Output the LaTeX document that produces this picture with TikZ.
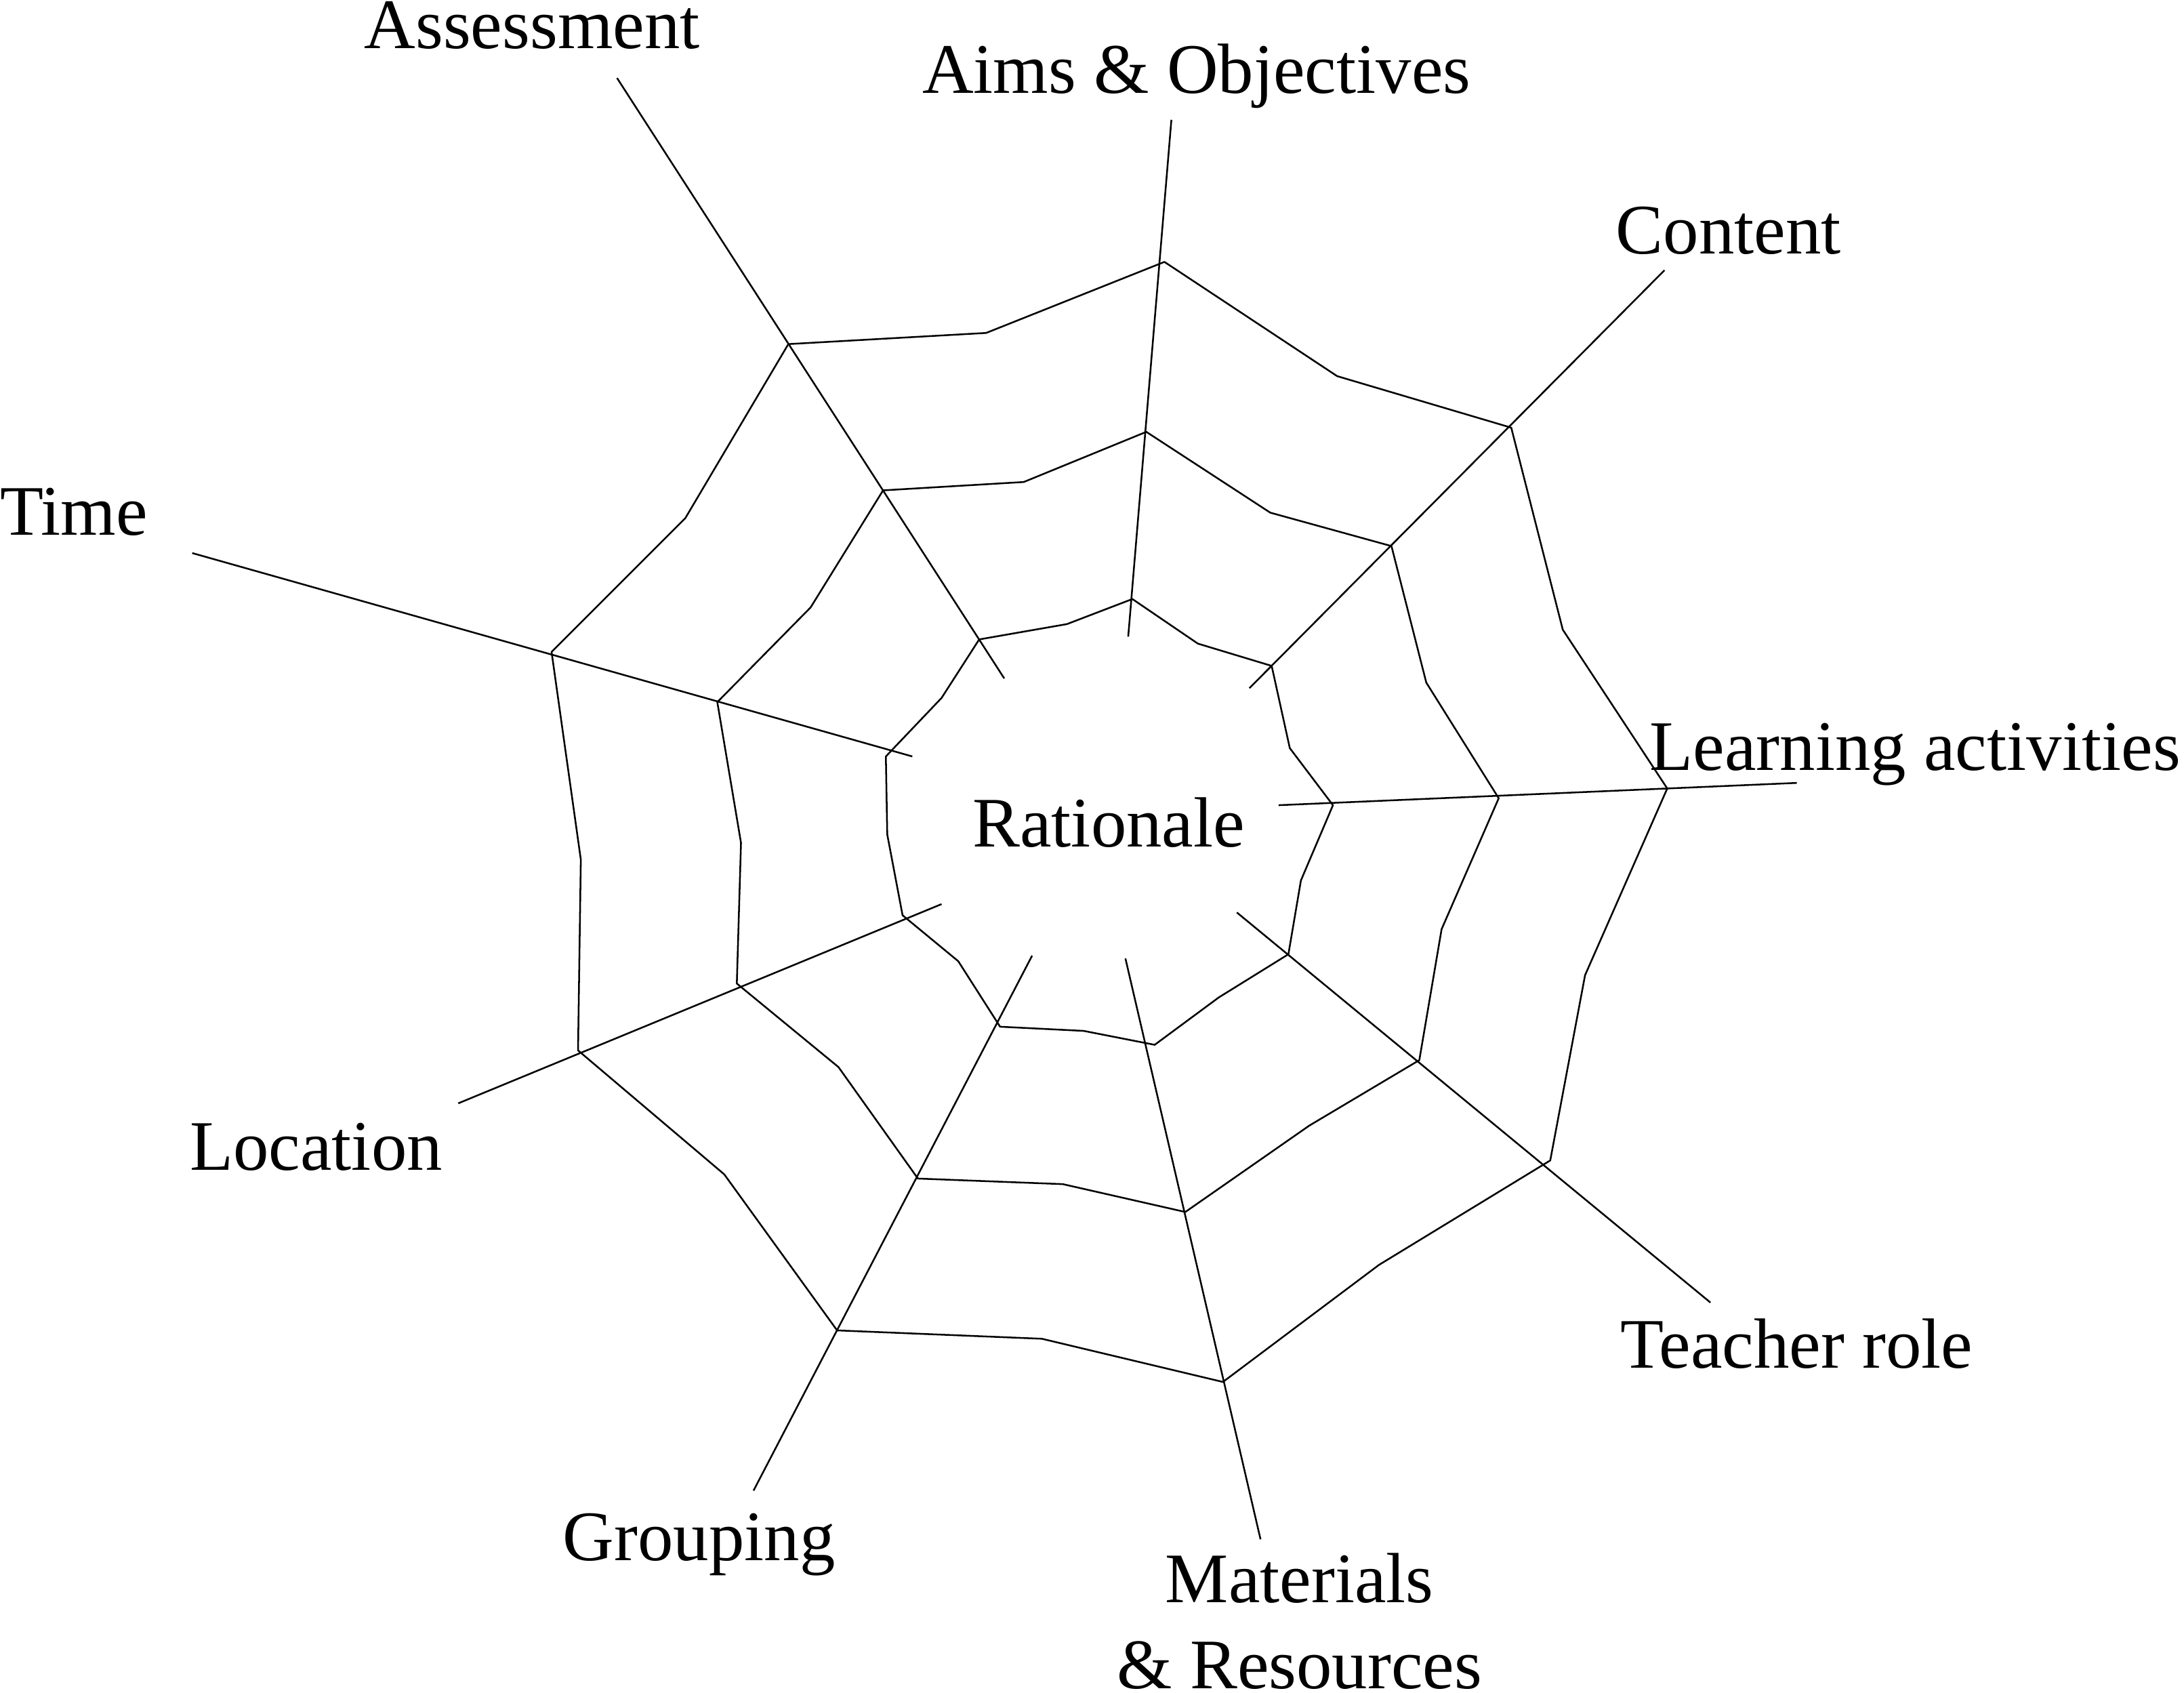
\documentclass[tikz,border=0pt]{standalone}
\usepackage{fontspec}
\setmainfont{Liberation Serif}
\tikzset{
	spoke/.style={line width=0.35pt},
	web/.style={line width=0.35pt, line join=round},
	lbl/.style={anchor=base, inner sep=0pt, font=\fontsize{14.5}{17.6}\selectfont}
}
\begin{document}
\begin{tikzpicture}[x=0.01cm, y=-0.01cm]
		\useasboundingbox (0,0) rectangle (1568,1215);
		% labels
		\node[lbl] (ratio) at (796,608) {Rationale};
		\node[lbl] (assess) at (382,35) {Assessment};
		\node[lbl] (aims) at (859,67) {Aims \& Objectives};
		\node[lbl] (cont) at (1241,182) {Content};
		\node[lbl] (learn) at (1375,553) {Learning activities};
		\node[lbl] (teach) at (1290,982) {Teacher role};
		\node[lbl,align=center] (mat) at (933,1212) {Materials\\\& Resources};
		\node[lbl] (group) at (502,1120) {Grouping};
		\node[lbl] (loc) at (227,840) {Location};
		\node[lbl] (time) at (53,384) {Time};
		% spoke ends
		\coordinate (assessIn) at (721,487);  \coordinate (assessOut) at (443,56);
		\coordinate (aimsIn) at (810,457);    \coordinate (aimsOut) at (841,86);
		\coordinate (contIn) at (897,494);    \coordinate (contOut) at (1195,194);
		\coordinate (learnIn) at (918,578);   \coordinate (learnOut) at (1290,562);
		\coordinate (teachIn) at (888,655);   \coordinate (teachOut) at (1228,935);
		\coordinate (matIn) at (808,688);     \coordinate (matOut) at (905,1105);
		\coordinate (groupIn) at (741,686);   \coordinate (groupOut) at (541,1070);
		\coordinate (locIn) at (676,649);     \coordinate (locOut) at (329,792);
		\coordinate (timeIn) at (655,543);    \coordinate (timeOut) at (138,397);
		\path[spoke] (assessIn) edge (assessOut)
			(aimsIn) edge (aimsOut)
			(contIn) edge (contOut)
			(learnIn) edge (learnOut)
			(teachIn) edge (teachOut)
			(matIn) edge (matOut)
			(groupIn) edge (groupOut)
			(locIn) edge (locOut)
			(timeIn) edge (timeOut);
		% web
		\draw[web] (703,459) -- (766,448) -- (813,430) -- (860,462) -- (913,478) -- (926,537)
			-- (957,578) -- (934,632) -- (925,685) -- (875,716) -- (829,750) -- (778,740)
			-- (718,737) -- (688,690) -- (648,657) -- (637,599) -- (636,543) -- (676,501) -- cycle;
		\draw[web] (634,352) -- (735,346) -- (823,310) -- (912,368) -- (999,392) -- (1024,490)
			-- (1076,573) -- (1035,667) -- (1019,761) -- (940,808) -- (851,870) -- (763,850)
			-- (659,846) -- (602,766) -- (529,706) -- (532,605) -- (515,504) -- (582,436) -- cycle;
		\draw[web] (566,247) -- (708,239) -- (836,188) -- (960,270) -- (1085,307) -- (1122,452)
			-- (1197,566) -- (1138,700) -- (1113,833) -- (990,908) -- (878,992) -- (748,961)
			-- (601,955) -- (520,843) -- (415,754) -- (417,617) -- (396,468) -- (492,372) -- cycle;
	\end{tikzpicture}
\end{document}
